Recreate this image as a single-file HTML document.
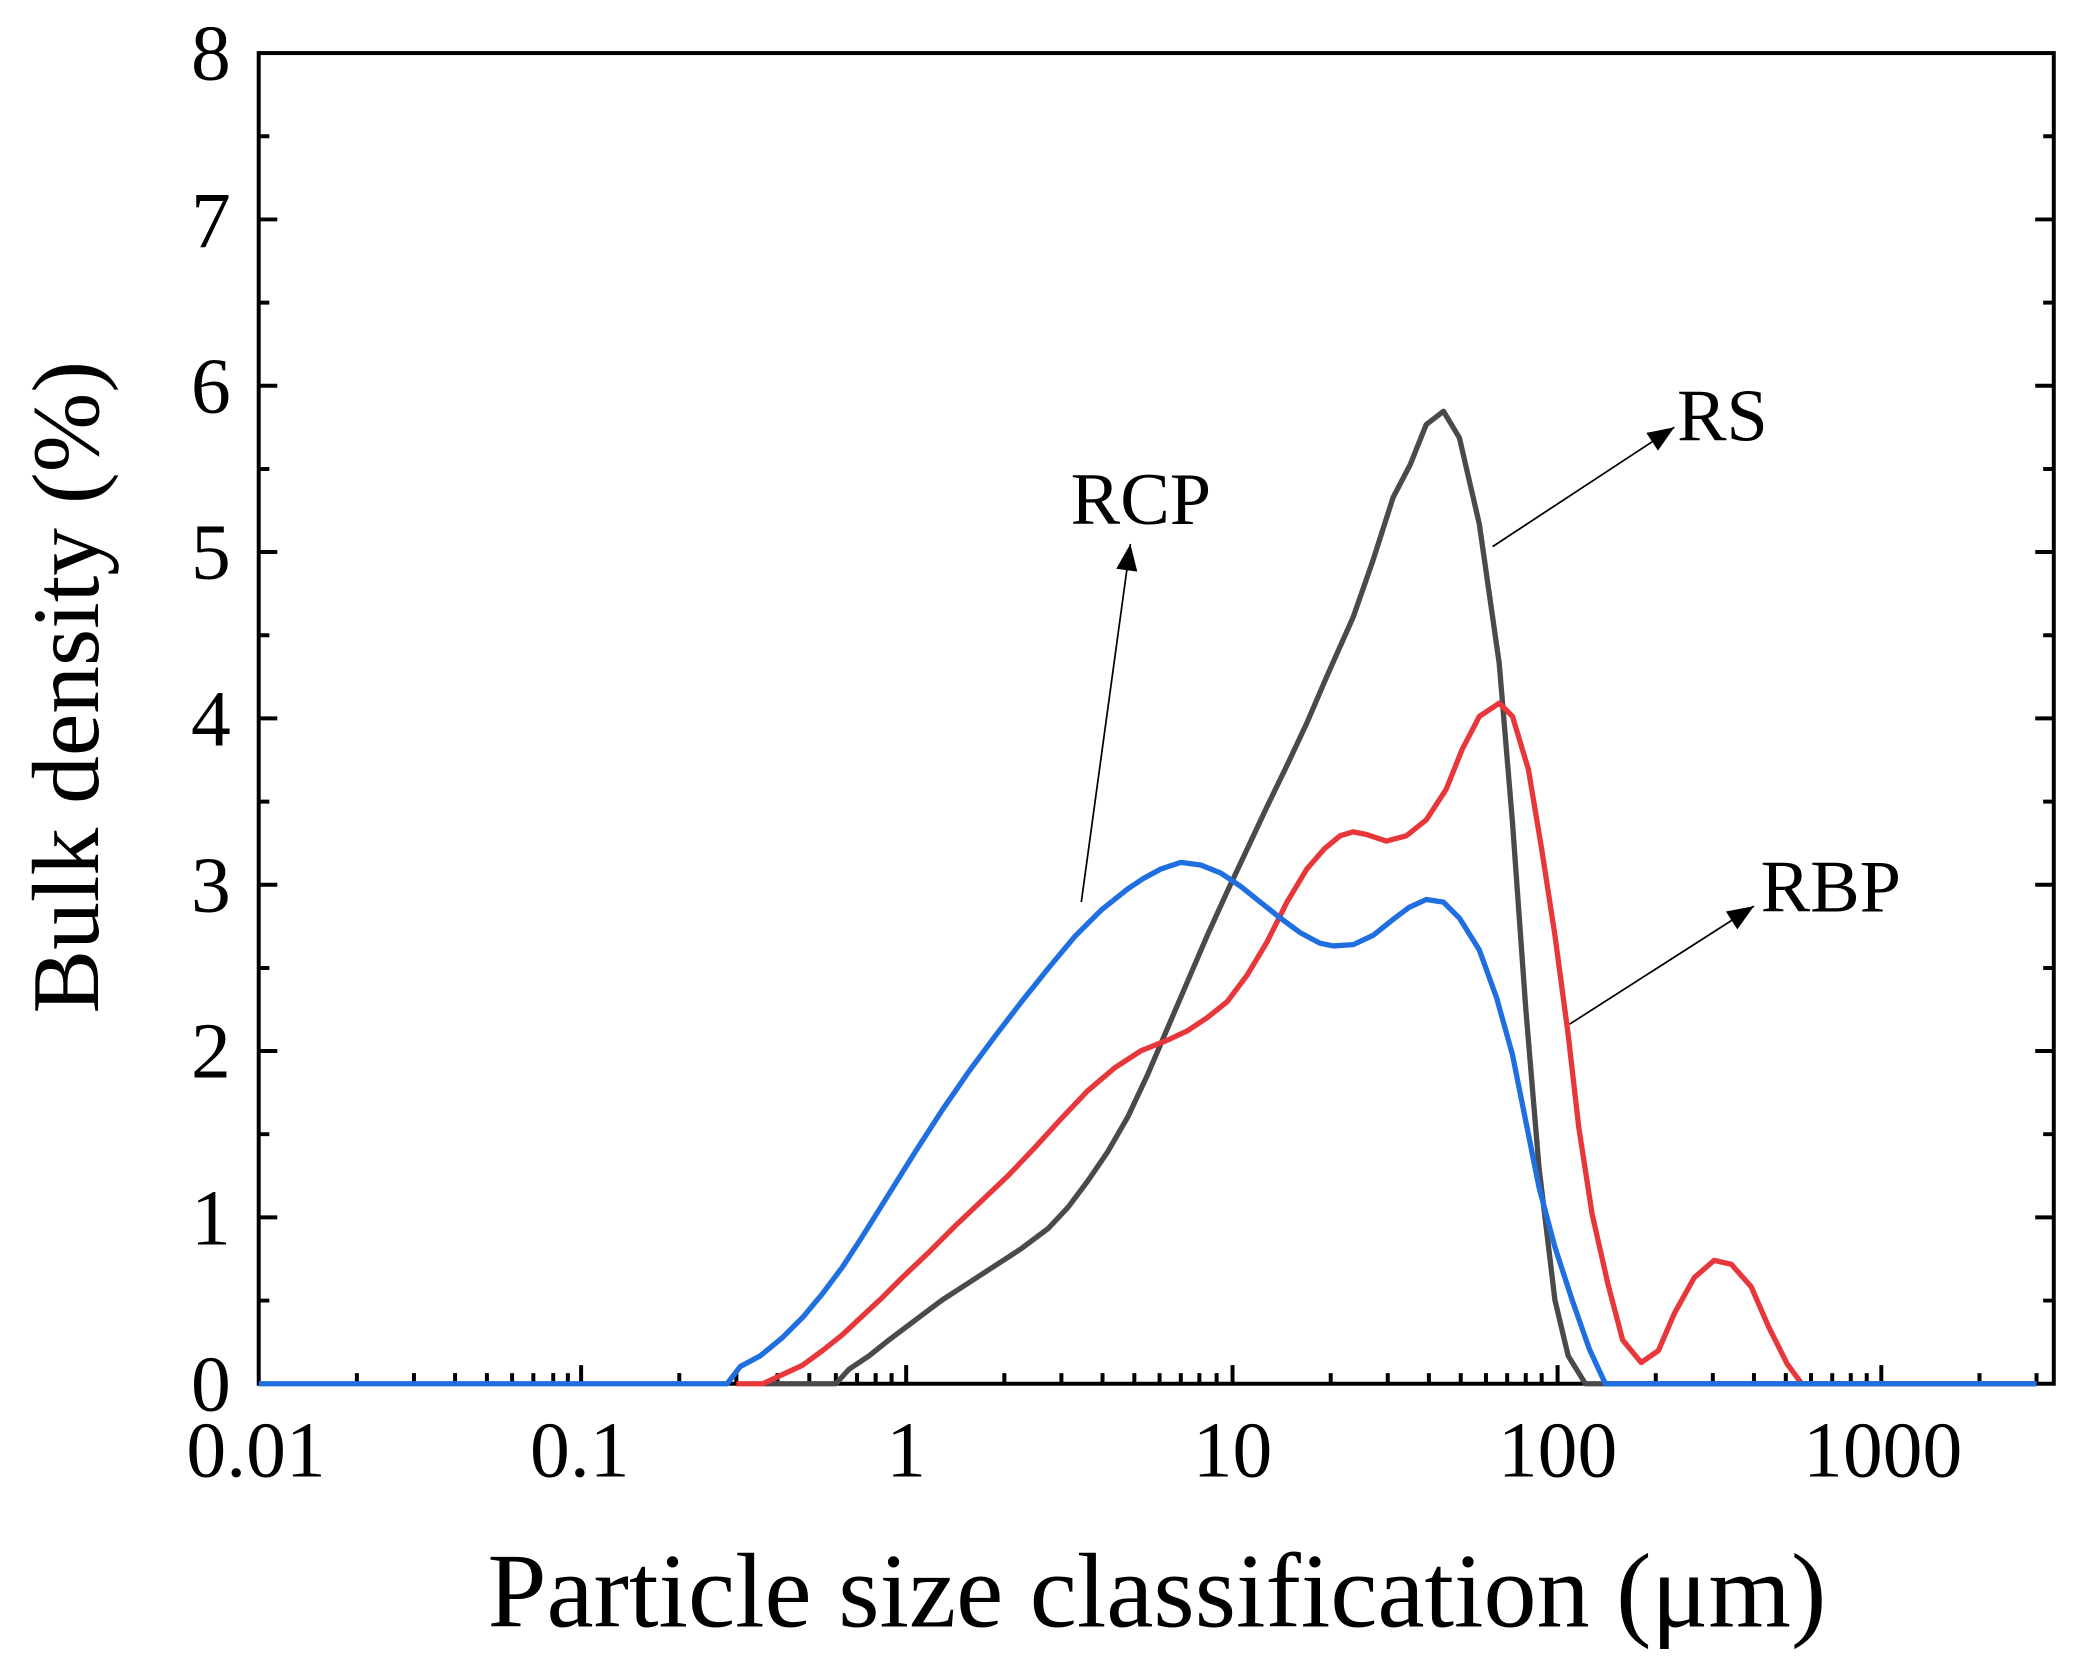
<!DOCTYPE html>
<html><head><meta charset="utf-8"><style>html,body{margin:0;padding:0;background:#fff}svg{display:block}</style></head><body>
<svg width="2079" height="1665" viewBox="0 0 1567 1255" preserveAspectRatio="none" xmlns="http://www.w3.org/2000/svg" font-family="Liberation Serif, serif">
<defs>
<marker id="a2" viewBox="0 0 10 8" markerWidth="22" markerHeight="16" refX="10" refY="4" orient="auto" markerUnits="userSpaceOnUse"><path d="M0,0L10,4L0,8z" fill="#000"/></marker></defs>
<g stroke="#000" stroke-width="3" fill="none">
<rect x="195" y="40" width="1353" height="1003"/>
<path d="M195,1043h14M195,917.6h14M195,792.2h14M195,666.9h14M195,541.5h14M195,416.1h14M195,290.8h14M195,165.4h14M1548,917.6h-14M1548,792.2h-14M1548,666.9h-14M1548,541.5h-14M1548,416.1h-14M1548,290.8h-14M1548,165.4h-14"/>
<path d="M195,980.3h8M195,854.9h8M195,729.6h8M195,604.2h8M195,478.8h8M195,353.5h8M195,228.1h8M195,102.7h8M1548,980.3h-8M1548,854.9h-8M1548,729.6h-8M1548,604.2h-8M1548,478.8h-8M1548,353.5h-8M1548,228.1h-8M1548,102.7h-8"/>
<path d="M438,1043v-14M683,1043v-14M929,1043v-14M1174,1043v-14M1418,1043v-14"/>
<path d="M269,1043v-8M312,1043v-8M343,1043v-8M367,1043v-8M386,1043v-8M402,1043v-8M417,1043v-8M428,1043v-8M512,1043v-8M555,1043v-8M586,1043v-8M610,1043v-8M630,1043v-8M646,1043v-8M660,1043v-8M672,1043v-8M757,1043v-8M800,1043v-8M831,1043v-8M855,1043v-8M874,1043v-8M890,1043v-8M904,1043v-8M917,1043v-8M1003,1043v-8M1046,1043v-8M1077,1043v-8M1101,1043v-8M1120,1043v-8M1136,1043v-8M1150,1043v-8M1162,1043v-8M1248,1043v-8M1291,1043v-8M1322,1043v-8M1346,1043v-8M1365,1043v-8M1381,1043v-8M1395,1043v-8M1407,1043v-8M1492,1043v-8M1535,1043v-8"/>
</g>
<g font-size="60" text-anchor="end">
<text x="174" y="1063">0</text><text x="174" y="938">1</text><text x="174" y="812">2</text><text x="174" y="687">3</text><text x="174" y="562">4</text><text x="174" y="436">5</text><text x="174" y="311">6</text><text x="174" y="186">7</text><text x="174" y="60">8</text>
</g>
<g font-size="60" text-anchor="middle">
<text x="193" y="1113">0.01</text><text x="437" y="1113">0.1</text><text x="683" y="1113">1</text><text x="929" y="1113">10</text><text x="1174" y="1113">100</text><text x="1419" y="1113">1000</text>
</g>
<text x="872" y="1226" font-size="80" text-anchor="middle">Particle size classification (μm)</text>
<text transform="translate(74,518) rotate(-90)" font-size="72" text-anchor="middle">Bulk density (%)</text>
<g fill="none" stroke-width="4" stroke-linejoin="round">
<polyline stroke="#4a4a4a" points="575,1043 630,1043 640,1032 655,1022 670,1010 690,995 710,980 730,967 750,954 770,941 790,926 805,910 820,890 835,868 850,842 865,810 880,775 895,740 910,705 925,672 940,640 955,608 970,577 985,545 1000,510 1020,465 1035,422 1050,375 1063,350 1075,320 1088,310 1100,330 1115,395 1130,500 1140,620 1150,760 1160,880 1172,980 1182,1022 1195,1043 1535,1043"/>
<polyline stroke="#e8373a" points="555,1043 575,1043 590,1036 605,1029 620,1018 635,1006 650,992 665,978 680,963 700,944 720,924 740,905 760,886 780,865 800,843 820,822 840,805 860,792 880,784 895,777 910,767 925,755 940,735 955,710 970,680 985,655 998,640 1010,630 1020,627 1030,629 1045,634 1060,630 1075,618 1090,595 1102,565 1115,540 1130,530 1140,540 1152,580 1162,640 1172,705 1182,780 1190,850 1200,915 1212,968 1223,1010 1237,1027 1250,1018 1262,990 1277,963 1292,950 1305,953 1320,970 1333,1000 1347,1028 1358,1043 1535,1043"/>
<polyline stroke="#1f6fe0" points="195,1043 548,1043 558,1030 573,1022 590,1008 605,993 620,975 635,955 650,932 670,900 690,868 710,837 730,808 750,781 770,755 790,730 810,706 830,686 850,670 862,662 875,655 890,650 905,652 920,658 935,668 950,680 965,692 980,703 995,711 1005,713 1020,712 1035,705 1050,693 1062,684 1075,678 1088,680 1100,692 1115,716 1128,752 1140,795 1150,845 1160,895 1172,940 1185,980 1198,1017 1210,1043 1535,1043"/>
</g>
<g stroke="#000" stroke-width="1.3" fill="none">
<line x1="1125" y1="412" x2="1262" y2="322" marker-end="url(#a2)"/>
<line x1="815" y1="680" x2="852" y2="410" marker-end="url(#a2)"/>
<line x1="1183" y1="772" x2="1322" y2="683" marker-end="url(#a2)"/>
</g>
<g font-size="56"><text x="1264" y="332">RS</text><text x="807" y="395">RCP</text><text x="1327" y="687">RBP</text></g>
</svg>
</body></html>
